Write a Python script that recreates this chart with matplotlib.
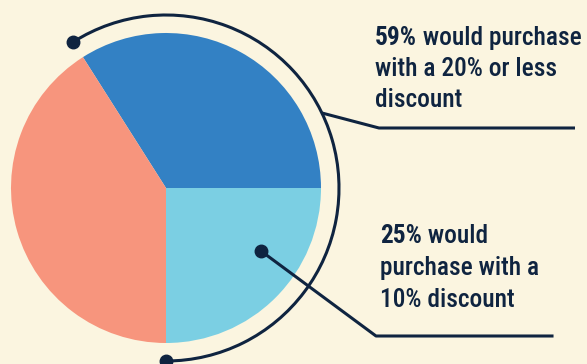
import matplotlib.pyplot as plt
from matplotlib.patches import Arc
import numpy as np

# shares of shoppers (%)
labels = ['20% discount', '10% discount', 'No purchase']
share_20_or_less = 59
share_10 = 25
shares = [share_20_or_less - share_10, share_10, 100 - share_20_or_less]
colors = ['#3381c4', '#7bcfe3', '#f7957d']

ink = '#0f2440'
bg = '#fbf5e0'

fig = plt.figure(figsize=(5.87, 3.64), dpi=100, facecolor=bg)
ax = fig.add_axes([0, 0, 1, 1])
ax.set_facecolor(bg)

cx, cy, r = 166, 176, 155
start = 122.4
ax.pie(shares, colors=colors, startangle=start, counterclock=False,
       center=(cx, cy), radius=r, frame=True,
       wedgeprops=dict(linewidth=0))
ax.set_xlim(0, 587)
ax.set_ylim(0, 364)
ax.set_aspect('equal')
ax.axis('off')

# bracket arc around both blue slices
R = 173
a_top = start
a_bot = start - (shares[0] + shares[1]) * 3.6
ax.add_patch(Arc((cx, cy), 2 * R, 2 * R, theta1=a_bot, theta2=a_top,
                 color=ink, lw=2.2))
for a in (a_top, a_bot):
    ax.plot(cx + R * np.cos(np.radians(a)), cy + R * np.sin(np.radians(a)),
            'o', color=ink, ms=9)

# leader from the arc to the top label
j = np.radians(25.7)
ax.plot([cx + R * np.cos(j), 379, 575], [cy + R * np.sin(j), 236, 236],
        color=ink, lw=2.2, solid_capstyle='butt')

# leader from the light blue slice to the lower label
ax.plot([261, 376, 552], [113, 28, 28], color=ink, lw=2.2)
ax.plot(261, 113, 'o', color=ink, ms=9)

family = ['Roboto Condensed', 'Open Sans Condensed', 'DejaVu Sans']
fig.canvas.draw()
rend = fig.canvas.get_renderer()

# pick a font size so the widest line is 207 px
probe = ax.text(0, 0, '59% would purchase', family=family, size=20,
                fontweight='bold')
w = probe.get_window_extent(rend).width
probe.remove()
size = min(20, 20 * 207 / w)
font = dict(family=family, size=size, color=ink, va='baseline')


def label(x, y, pct, lines, step):
    t = ax.text(x, y, pct, fontweight='bold', **font)
    bb = t.get_window_extent(rend)
    x2 = ax.transData.inverted().transform((bb.x1, bb.y0))[0]
    ax.text(x2, y, lines[0], fontweight='medium', **font)
    for i, line in enumerate(lines[1:], 1):
        ax.text(x, y - i * step, line, fontweight='medium', **font)


label(375, 364 - 45, '59%', [' would purchase', 'with a 20% or less', 'discount'], 31)
label(380, 364 - 243, '25%', [' would', 'purchase with a', '10% discount'], 32)

fig.savefig('out.png', dpi=100, facecolor=bg)
